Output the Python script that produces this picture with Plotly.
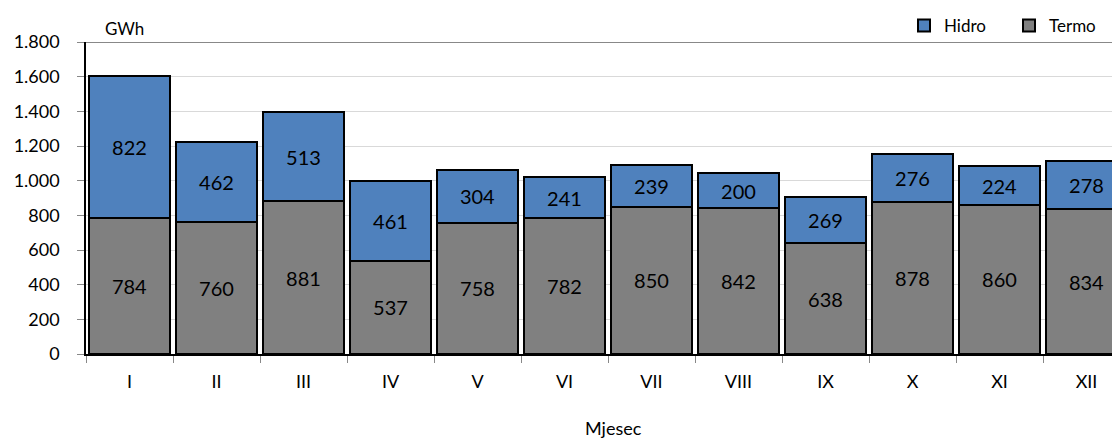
import plotly.graph_objects as go

months = ["I", "II", "III", "IV", "V", "VI", "VII", "VIII", "IX", "X", "XI", "XII"]
termo = [784, 760, 881, 537, 758, 782, 850, 842, 638, 878, 860, 834]
hidro = [822, 462, 513, 461, 304, 241, 239, 200, 269, 276, 224, 278]

FONT = "Lato"
# page has an 8px body margin: figure is 1112x433 so it ends at the window edge
W, H = 1112, 433
L, T, B = 78, 34, 87
PW, PH = W - L, H - T - B

fig = go.Figure()
fig.add_trace(go.Bar(
    x=months, y=termo, name="Termo",
    marker=dict(color="#808080", line=dict(color="black", width=2)),
    text=[str(v) for v in termo], textposition="inside", insidetextanchor="middle",
    textangle=0, textfont=dict(size=20, color="black", family=FONT),
))
fig.add_trace(go.Bar(
    x=months, y=hidro, name="Hidro",
    marker=dict(color="#4F81BD", line=dict(color="black", width=2)),
    text=[str(v) for v in hidro], textposition="inside", insidetextanchor="middle",
    textangle=0, textfont=dict(size=20, color="black", family=FONT),
))

fig.update_layout(
    width=W, height=H,
    barmode="stack", bargap=0.08,
    separators=",.",
    paper_bgcolor="white", plot_bgcolor="white",
    font=dict(family=FONT, size=18, color="black"),
    margin=dict(l=L, r=0, t=T, b=B, pad=0, autoexpand=False),
    showlegend=True,
    legend=dict(orientation="h", xref="container", yref="container",
                x=1106 / W, xanchor="right", y=1.0, yanchor="top",
                traceorder="reversed", font=dict(size=17),
                bgcolor="rgba(0,0,0,0)", itemwidth=30, tracegroupgap=0,
                entrywidth=60, entrywidthmode="pixels"),
    uniformtext=dict(minsize=20, mode="show"),
    annotations=[
        dict(text="GWh", x=(95 - L) / PW, xref="paper", y=1.0, yref="paper",
             yanchor="bottom", xanchor="left", showarrow=False, yshift=1,
             font=dict(size=17)),
        dict(text="Mjesec", x=(605 - L) / PW, xref="paper",
             y=-74 / PH, yref="paper", yanchor="middle", xanchor="center",
             showarrow=False, font=dict(size=18)),
    ],
)
fig.update_xaxes(
    range=[-0.5, 11.385], type="category", automargin=False,
    showline=True, linecolor="black", linewidth=1.5,
    ticks="outside", tickson="boundaries", ticklen=7, tickcolor="#888",
    tickfont=dict(size=18), ticklabelstandoff=11, showgrid=False,
)
fig.update_yaxes(
    range=[0, 1800], dtick=200, tickformat=",d", automargin=False,
    showline=True, linecolor="black", linewidth=1.5,
    ticks="outside", ticklen=7, tickcolor="#888", tickfont=dict(size=18),
    ticklabelstandoff=14,
    showgrid=True, gridcolor="#d9d9d9", gridwidth=1,
    zeroline=False,
)
fig.add_shape(type="line", xref="paper", yref="y", x0=0, x1=1, y0=1800, y1=1800,
              line=dict(color="#888888", width=2))
fig.write_html("out.html")
